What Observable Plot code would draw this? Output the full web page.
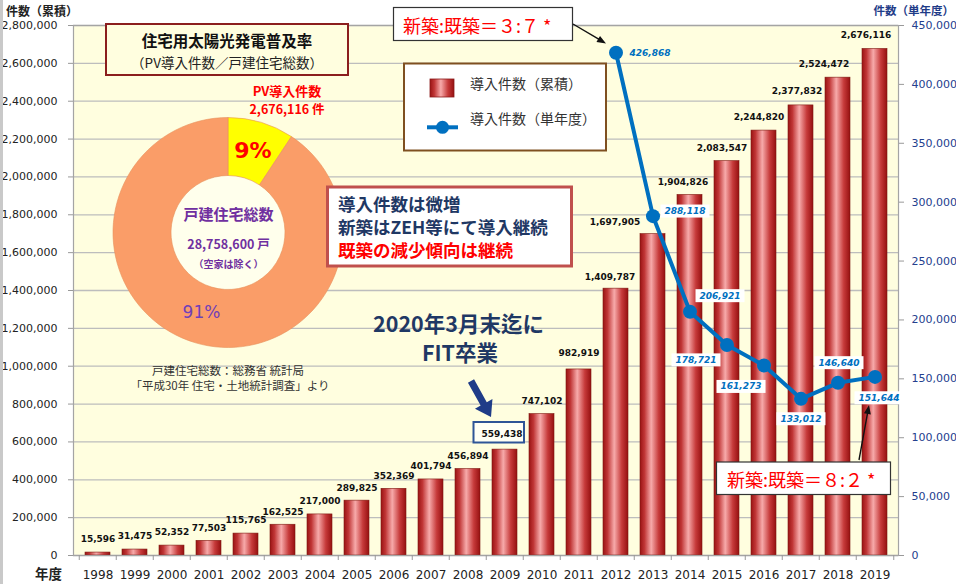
<!DOCTYPE html>
<html><head><meta charset="utf-8">
<script src="https://cdn.jsdelivr.net/npm/d3@7"></script>
<script src="https://cdn.jsdelivr.net/npm/@observablehq/plot@0.6"></script>
<style>
body{margin:0;background:#fff;}
#chart{position:relative;width:956px;height:584px;overflow:hidden;}
#edge{position:absolute;left:0;top:0;width:3px;height:584px;background:#c9c9c9;}
</style></head><body><div id="chart"><div id="edge"></div></div>
<script>
// ---------- data ----------
const years = [1998,1999,2000,2001,2002,2003,2004,2005,2006,2007,2008,2009,2010,2011,2012,2013,2014,2015,2016,2017,2018,2019];
const cumulative = [15596,31475,52352,77503,115765,162525,217000,289825,352369,401794,456894,559438,747102,982919,1409787,1697905,1904826,2083547,2244820,2377832,2524472,2676116];
const singleYears = [2012,2013,2014,2015,2016,2017,2018,2019];
const singleValues = [426868,288118,206921,178721,161273,133012,146640,151644];
const leftTicks = [0,200000,400000,600000,800000,1000000,1200000,1400000,1600000,1800000,2000000,2200000,2400000,2600000,2800000];
const rightTicks = [0,50000,100000,150000,200000,250000,300000,350000,400000,450000];
const donutParts = ["PV導入件数","未導入"];
const donutValues = [2676116, 26082484];
const donutPct = ["9%","91%"];

// ---------- setup ----------
const LEFT_MAX = 2800000, RIGHT_MAX = 450000, R = LEFT_MAX / RIGHT_MAX;
const fmt = d3.format(",");
const bars = years.map((year, i) => ({year, value: cumulative[i]}));
const singles = singleYears.map((year, i) => ({year, value: singleValues[i], scaled: singleValues[i] * R}));
const CREAM = "#FFFEDF";
const BLUE = "#0070C0";
const NAVY = "#1F3864";
const CJK = "'Noto Sans CJK JP', 'DejaVu Sans', sans-serif";

// label placement (layout, not data)
const barShift = {2009:[-3,-15],2011:[0,-16],2012:[-6,-12],2013:[-38,-12],2014:[-7,-13],2015:[-5,-13],2016:[-5,-13],2017:[-4,-14],2018:[-14,-14],2019:[-9,-14]};
const lineShift = {2012:[34,0],2013:[32,-5],2014:[30,-16],2015:[-31,15],2016:[-23,21],2017:[0,20],2018:[1,-20],2019:[4,21]};

function defs() {
  const d = d3.create("svg:defs");
  const g = d.append("linearGradient").attr("id","barGrad").attr("x1","0").attr("x2","1").attr("y1","0").attr("y2","0");
  [[0,"#9a1313"],[0.18,"#c03636"],[0.45,"#f7aaaa"],[0.75,"#c63a3a"],[1,"#961010"]]
    .forEach(([o,c]) => g.append("stop").attr("offset",o).attr("stop-color",c));
  return d.node();
}

function arrow(g, x1, y1, x2, y2, w, hl, hw, color) {
  const a = Math.atan2(y2 - y1, x2 - x1), L = Math.hypot(x2 - x1, y2 - y1);
  const s = g.append("g").attr("transform", `translate(${x1},${y1}) rotate(${a * 180 / Math.PI})`);
  s.append("path").attr("fill", color)
    .attr("d", `M0,${-w/2}L${L-hl},${-w/2}L${L-hl},${-hw/2}L${L},0L${L-hl},${hw/2}L${L-hl},${w/2}L0,${w/2}Z`);
}

function txt(g, x, y, s, opts = {}) {
  const t = g.append("text").attr("x", x).attr("y", y)
    .attr("text-anchor", opts.anchor || "middle").attr("dominant-baseline", "central")
    .attr("font-size", opts.size || 12).attr("fill", opts.fill || "#222");
  if (opts.bold) t.attr("font-weight", "bold");
  if (opts.family) t.attr("font-family", opts.family);
  t.text(s);
  return t;
}

function annotations() {
  const g = d3.create("svg:g").attr("font-family", CJK).attr("text-anchor", "start");
  // title box
  g.append("rect").attr("x",106).attr("y",24).attr("width",242).attr("height",51)
    .attr("fill",CREAM).attr("stroke","#8B1E1E").attr("stroke-width",2);
  txt(g, 227, 39.5, "住宅用太陽光発電普及率", {size: 15.5, bold: true, fill: "#111"});
  txt(g, 227, 61.5, "（PV導入件数／戸建住宅総数）", {size: 13.5, fill: "#222"});
  // PV label
  txt(g, 287, 90.5, "PV導入件数", {size: 13, bold: true, fill: "#FF0000"});
  txt(g, 287, 108, fmt(donutValues[0]) + " 件", {size: 12.5, bold: true, fill: "#FF0000"});
  // donut
  const cx = 228, cy = 232.5;
  const pie = d3.pie().sort(null)(donutValues);
  const arc = d3.arc().innerRadius(57).outerRadius(115);
  const colors = ["#FFFF00", "#FA9D68"];
  const dg = g.append("g").attr("transform", `translate(${cx},${cy})`);
  dg.append("circle").attr("r",57).attr("fill","#FFFFEC");
  dg.selectAll("path").data(pie).join("path").attr("d", arc)
    .attr("fill", (d, i) => colors[i]).attr("stroke", "#e8905a").attr("stroke-width", 0.6)
    .append("title").text((d, i) => donutParts[i]);
  txt(g, 253, 150, donutPct[0], {size: 22, bold: true, fill: "#FF0000", family: "'DejaVu Sans', sans-serif"});
  txt(g, 201.5, 312, donutPct[1], {size: 17, fill: "#7040B8", family: "'DejaVu Sans', sans-serif"});
  txt(g, 228.5, 213.3, "戸建住宅総数", {size: 15, bold: true, fill: "#7030A0"});
  txt(g, 228.5, 243.3, fmt(donutValues[0] + donutValues[1]) + " 戸", {size: 12.5, bold: true, fill: "#7030A0"});
  txt(g, 228.5, 263.3, "（空家は除く）", {size: 10, bold: true, fill: "#7030A0"});
  // source
  txt(g, 228, 370, "戸建住宅総数：総務省 統計局", {size: 11.5, fill: "#333"});
  txt(g, 230, 384.5, "「平成30年 住宅・土地統計調査」より", {size: 11.5, fill: "#333"});
  // message box
  g.append("rect").attr("x",327.5).attr("y",187).attr("width",244).attr("height",79)
    .attr("fill","#fff").attr("stroke","#C0504D").attr("stroke-width",3);
  [["導入件数は微増",203,NAVY],["新築はZEH等にて導入継続",226.5,NAVY],["既築の減少傾向は継続",249.5,"#FF0000"]].forEach(([t,y,c]) =>
    txt(g, 338, y, t, {anchor: "start", size: 17.5, bold: true, fill: c}));
  // legend
  g.append("rect").attr("x",404).attr("y",63.5).attr("width",202).attr("height",87)
    .attr("fill","#fff").attr("stroke","#7F5020").attr("stroke-width",2);
  g.append("rect").attr("x",430).attr("y",79).attr("width",24).attr("height",18)
    .attr("fill","url(#barGrad)").attr("stroke","#8a1a1a").attr("stroke-width",0.8);
  txt(g, 470, 83, "導入件数（累積）", {anchor: "start", size: 14, fill: "#333"});
  g.append("line").attr("x1",427).attr("x2",458).attr("y1",127.3).attr("y2",127.3).attr("stroke",BLUE).attr("stroke-width",4);
  g.append("circle").attr("cx",442.5).attr("cy",127.3).attr("r",6.5).attr("fill",BLUE);
  txt(g, 470, 118.3, "導入件数（単年度）", {anchor: "start", size: 14, fill: "#333"});
  // ratio boxes
  g.append("rect").attr("x",393.5).attr("y",7.5).attr("width",179).attr("height",33)
    .attr("fill","#fff").attr("stroke","#333").attr("stroke-width",1.2);
  txt(g, 403, 25, "新築:既築＝３:７ *", {anchor: "start", size: 18, fill: "#FF0000"});
  arrow(g, 573, 24, 606, 43.5, 1.4, 9, 7, "#111");
  g.append("rect").attr("x",716.5).attr("y",462).attr("width",174).attr("height",32.5)
    .attr("fill","#fff").attr("stroke","#333").attr("stroke-width",1.2);
  txt(g, 727, 478.5, "新築:既築＝８:２ *", {anchor: "start", size: 18, fill: "#FF0000"});
  arrow(g, 859, 460, 869, 405, 1.4, 9, 7, "#111");
  // FIT annotation
  txt(g, 458.5, 322, "2020年3月末迄に", {size: 21.5, bold: true, fill: NAVY});
  txt(g, 460, 351, "FIT卒業", {size: 21.5, bold: true, fill: NAVY});
  arrow(g, 471, 381, 491, 417, 7, 15, 20, "#1F3C88");
  g.append("rect").attr("x",473.5).attr("y",422).attr("width",50.5).attr("height",20.5)
    .attr("fill","#FFFFF4").attr("stroke","#2F5597").attr("stroke-width",2);
  // axis titles
  txt(g, 6, 10, "件数（累積）", {anchor: "start", size: 12, bold: true, fill: "#222"});
  txt(g, 954, 10, "件数（単年度）", {anchor: "end", size: 11.5, bold: true, fill: "#1F3C88"});
  txt(g, 35, 573, "年度", {anchor: "start", size: 13.5, bold: true, fill: "#222"});
  return g.node();
}

const barLabelMarks = bars.map(b => {
  const [dx, dy] = barShift[b.year] || [0, -13];
  return Plot.text([b], {x: "year", y: "value", text: d => fmt(d.value), dx, dy,
    fontSize: 9, fontWeight: "bold", fill: "#111"});
});
const lineLabelMarks = singles.map(s => {
  const [dx, dy] = lineShift[s.year];
  return Plot.text([s], {x: "year", y: "scaled", text: d => fmt(d.value), dx, dy,
    fontSize: 9, fontWeight: "bold", fontStyle: "italic", fill: BLUE});
});

const step = (956 - 73 - 58) / years.length;

const chart = Plot.plot({
  width: 956, height: 584,
  marginLeft: 73, marginRight: 58, marginTop: 25, marginBottom: 29,
  style: {fontFamily: "'DejaVu Sans', 'Noto Sans CJK JP', sans-serif", fontSize: "11px", background: "transparent", color: "#222", overflow: "visible"},
  x: {type: "band", domain: years, padding: 0, axis: null},
  y: {domain: [0, LEFT_MAX], axis: null},
  marks: [
    Plot.frame({fill: CREAM}),
    Plot.gridY(leftTicks, {stroke: "#bdbdbd", strokeOpacity: 1, strokeWidth: 1.3}),
    defs,
    Plot.barY(bars, {x: "year", y: "value", fill: "url(#barGrad)", insetLeft: 6, insetRight: 6, stroke: "#7e1a12", strokeWidth: 0.6}),
    Plot.frame({stroke: "#a4a4a4", strokeWidth: 1.2}),
    Plot.axisY(leftTicks, {anchor: "left", tickSize: 5, tickPadding: 11, tickFormat: fmt, fontSize: 11, fill: "#222", stroke: "#999", label: null}),
    Plot.axisY(rightTicks.map(v => v * R), {anchor: "right", tickSize: 5, tickPadding: 8, tickFormat: d => fmt(Math.round(d / R)), fontSize: 11, fill: "#23408E", stroke: "#999", label: null}),
    Plot.axisX({anchor: "bottom", tickSize: 0, tickPadding: 15, tickFormat: d => String(d), fontSize: 12, fill: "#222", label: null}),
    Plot.ruleX(years, {x: d => d, dx: -step / 2, y1: 0, y2: 0, insetBottom: -5, stroke: "#999"}),
    Plot.ruleX([years[years.length - 1]], {x: d => d, dx: step / 2, y1: 0, y2: 0, insetBottom: -5, stroke: "#999"}),
    Plot.line(singles, {x: "year", y: "scaled", stroke: BLUE, strokeWidth: 4}),
    Plot.dot(singles, {x: "year", y: "scaled", r: 7, fill: BLUE}),
    annotations,
    ...barLabelMarks,
    ...lineLabelMarks
  ]
});
document.getElementById("chart").append(chart);

// white boxes behind single-year labels (all except the 2012 one, which sits on the background)
const boxed = new Set(singleValues.slice(1).map(fmt));
Array.from(chart.querySelectorAll("text")).forEach(t => {
  if (!boxed.has(t.textContent)) return;
  const b = t.getBBox();
  const r = document.createElementNS("http://www.w3.org/2000/svg", "rect");
  r.setAttribute("x", b.x - 4); r.setAttribute("y", b.y - 1.5);
  r.setAttribute("width", b.width + 8); r.setAttribute("height", b.height + 3);
  r.setAttribute("fill", "#ffffff");
  r.setAttribute("stroke", "none");
  if (t.getAttribute("transform")) r.setAttribute("transform", t.getAttribute("transform"));
  t.parentNode.insertBefore(r, t);
});
</script>
</body></html>
